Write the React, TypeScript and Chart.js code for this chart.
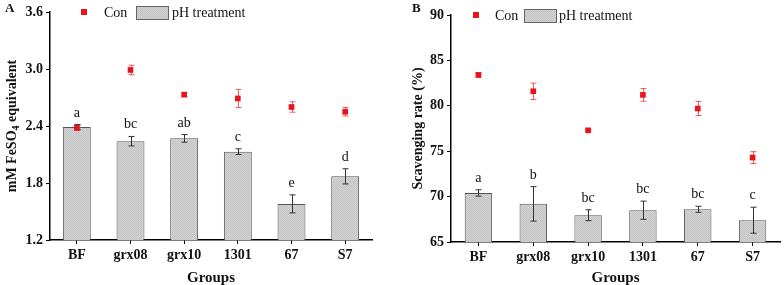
import React, { useEffect, useRef } from 'react';
import { Chart, registerables } from 'chart.js';

Chart.register(...registerables);

// ---- data ----
const groups = ['BF', 'grx08', 'grx10', '1301', '67', 'S7'];

const feConValues = [2.38, 2.99, 2.73, 2.69, 2.6, 2.55];
const feConErrors = [0.025, 0.05, 0.02, 0.095, 0.055, 0.045];
const fePhValues = [2.39, 2.24, 2.27, 2.13, 1.58, 1.87];
const fePhErrors = [0.025, 0.05, 0.04, 0.03, 0.095, 0.08];
const fePhLetters = ['a', 'bc', 'ab', 'c', 'e', 'd'];
const feTicks = [1.2, 1.8, 2.4, 3.0, 3.6];

const scConValues = [83.4, 81.6, 77.3, 81.2, 79.7, 74.3];
const scConErrors = [0.25, 0.9, 0.1, 0.7, 0.77, 0.65];
const scPhValues = [70.4, 69.2, 67.95, 68.5, 68.6, 67.4];
const scPhErrors = [0.35, 1.9, 0.6, 1.0, 0.33, 1.43];
const scPhLetters = ['a', 'b', 'bc', 'bc', 'bc', 'c'];
const scTicks = [65, 70, 75, 80, 85, 90];

const conLabel = 'Con';
const phLabel = 'pH treatment';

const SERIF = '"Liberation Serif", "Times New Roman", Times, serif';
const RED = '#e8141c';

function makePattern(): CanvasPattern | string {
  const c = document.createElement('canvas');
  c.width = 2;
  c.height = 2;
  const g = c.getContext('2d');
  if (!g) return '#cccccc';
  g.fillStyle = '#d3d3d3';
  g.fillRect(0, 0, 2, 2);
  g.fillStyle = '#c3c3c3';
  g.fillRect(0, 0, 1, 1);
  g.fillRect(1, 1, 1, 1);
  return g.createPattern(c, 'repeat') || '#cccccc';
}

function drawErrors(chart: any, index: number) {
  const ds: any = chart.data.datasets[index];
  if (!ds.errors) return;
  const meta = chart.getDatasetMeta(index);
  const y = chart.scales.y;
  const ctx = chart.ctx;
  ctx.save();
  ctx.strokeStyle = ds.errorColor;
  ctx.lineWidth = 1;
  ds.data.forEach((v: number, i: number) => {
    const e = ds.errors[i];
    const px = Math.round(meta.data[i].x) + 0.5;
    const yTop = y.getPixelForValue(v + e);
    const yBot = y.getPixelForValue(v - e);
    ctx.beginPath();
    ctx.moveTo(px, yTop);
    ctx.lineTo(px, yBot);
    ctx.moveTo(px - 3, yTop);
    ctx.lineTo(px + 3, yTop);
    ctx.moveTo(px - 3, yBot);
    ctx.lineTo(px + 3, yBot);
    ctx.stroke();
  });
  ctx.restore();
}

const overlayPlugin = {
  id: 'overlay',
  beforeDatasetDraw(chart: any, args: any) {
    const ds: any = chart.data.datasets[args.index];
    if (ds.type === 'line') drawErrors(chart, args.index);
  },
  afterDatasetDraw(chart: any, args: any) {
    const ds: any = chart.data.datasets[args.index];
    if (ds.type === 'bar') drawErrors(chart, args.index);
  },
  afterDraw(chart: any, _args: any, opts: any) {
    const ctx = chart.ctx;
    const area = chart.chartArea;
    const y = chart.scales.y;
    ctx.save();
    // significance letters
    const barIndex = chart.data.datasets.findIndex((d: any) => d.type === 'bar');
    const barDs: any = chart.data.datasets[barIndex];
    const barMeta = chart.getDatasetMeta(barIndex);
    ctx.fillStyle = '#111';
    ctx.font = `14px ${SERIF}`;
    ctx.textAlign = 'center';
    ctx.textBaseline = 'alphabetic';
    barDs.data.forEach((v: number, i: number) => {
      const top = y.getPixelForValue(v + barDs.errors[i]);
      ctx.fillText(barDs.letters[i], barMeta.data[i].x, top - 8);
    });

    // legend
    const lx = opts.legendX as number[];
    const cy = area.top;
    ctx.fillStyle = RED;
    ctx.fillRect(area.left + lx[0] - 3, cy - 3, 6, 6);
    ctx.fillStyle = '#111';
    ctx.font = `14px ${SERIF}`;
    ctx.textAlign = 'left';
    ctx.textBaseline = 'middle';
    const conDs: any = chart.data.datasets.find((d: any) => d.type === 'line');
    ctx.fillText(conDs.label, area.left + lx[1], cy + 1);
    ctx.fillStyle = barDs.backgroundColor;
    ctx.fillRect(area.left + lx[2], cy - 6, 32, 13);
    ctx.strokeStyle = '#666';
    ctx.lineWidth = 1;
    ctx.strokeRect(area.left + lx[2] + 0.5, cy - 5.5, 32, 13);
    ctx.fillStyle = '#111';
    ctx.fillText(barDs.label, area.left + lx[3], cy + 1);

    // x title
    ctx.fillStyle = '#111';
    ctx.font = `bold 15px ${SERIF}`;
    ctx.textAlign = 'center';
    ctx.textBaseline = 'alphabetic';
    ctx.fillText(opts.xTitle, (area.left + area.right) / 2, chart.height - 3.5);

    // panel letter
    ctx.font = `bold 13px ${SERIF}`;
    ctx.textAlign = 'left';
    ctx.fillText(opts.panel, opts.panelX, 11.5);

    // y title (rotated, optional subscript)
    ctx.translate(opts.yTitleX, (area.top + area.bottom) / 2);
    ctx.rotate(-Math.PI / 2);
    const parts: { t: string; sub: boolean }[] = opts.yTitleParts;
    const bigFont = `bold 14px ${SERIF}`;
    const subFont = `bold 10px ${SERIF}`;
    let total = 0;
    parts.forEach((p) => {
      ctx.font = p.sub ? subFont : bigFont;
      total += ctx.measureText(p.t).width;
    });
    let x = -total / 2;
    ctx.textBaseline = 'middle';
    ctx.textAlign = 'left';
    parts.forEach((p) => {
      ctx.font = p.sub ? subFont : bigFont;
      ctx.fillText(p.t, x, p.sub ? 4 : 0);
      x += ctx.measureText(p.t).width;
    });
    ctx.restore();
  },
};

interface PanelProps {
  width: number;
  conValues: number[];
  conErrors: number[];
  phValues: number[];
  phErrors: number[];
  letters: string[];
  ticks: number[];
  decimals: number;
  leftW: number;
  rightPad: number;
  topPad: number;
  bottomH: number;
  legendX: number[];
  panel: string;
  panelX: number;
  yTitleX: number;
  yTitleParts: { t: string; sub: boolean }[];
  barPct: number;
}

function Panel(p: PanelProps) {
  const ref = useRef<HTMLCanvasElement | null>(null);
  useEffect(() => {
    if (!ref.current) return;
    const pattern = makePattern();
    const tickFont = { family: SERIF, size: 14, weight: 'bold' as const };
    const chart = new Chart(ref.current, {
      type: 'bar',
      data: {
        labels: groups,
        datasets: [
          {
            type: 'line',
            label: conLabel,
            data: p.conValues,
            showLine: false,
            pointStyle: 'rect',
            pointRadius: 4,
            pointBackgroundColor: RED,
            pointBorderWidth: 0,
            borderColor: RED,
            order: 0,
            errors: p.conErrors,
            errorColor: 'rgba(232,40,40,0.75)',
          } as any,
          {
            type: 'bar',
            label: phLabel,
            data: p.phValues,
            backgroundColor: pattern,
            borderColor: '#555',
            borderWidth: 1,
            borderSkipped: 'bottom',
            barPercentage: p.barPct,
            categoryPercentage: 1,
            order: 1,
            errors: p.phErrors,
            errorColor: '#333',
            letters: p.letters,
          } as any,
        ],
      },
      options: {
        animation: false,
        responsive: false,
        maintainAspectRatio: false,
        layout: { padding: { top: p.topPad, right: p.rightPad, left: 0, bottom: 0 } },
        plugins: {
          legend: { display: false },
          tooltip: { enabled: false },
          overlay: {
            legendX: p.legendX,
            xTitle: 'Groups',
            panel: p.panel,
            panelX: p.panelX,
            yTitleX: p.yTitleX,
            yTitleParts: p.yTitleParts,
          },
        } as any,
        scales: {
          x: {
            offset: true,
            grid: {
              display: true,
              drawOnChartArea: false,
              drawTicks: true,
              tickLength: 4,
              offset: false,
              color: '#000',
              lineWidth: 1,
            },
            border: { display: true, color: '#000', width: 1.5 },
            ticks: { font: tickFont, color: '#111', padding: 3, maxRotation: 0, autoSkip: false },
            afterFit(s: any) {
              s.height = p.bottomH;
            },
          },
          y: {
            min: p.ticks[0],
            max: p.ticks[p.ticks.length - 1],
            afterBuildTicks(s: any) {
              s.ticks = p.ticks.map((v) => ({ value: v }));
            },
            grid: {
              display: true,
              drawOnChartArea: false,
              drawTicks: true,
              tickLength: 4,
              color: '#000',
              lineWidth: 1,
            },
            border: { display: true, color: '#000', width: 1.5 },
            ticks: {
              font: tickFont,
              color: '#111',
              padding: 3,
              callback: (v: any) => Number(v).toFixed(p.decimals),
            },
            afterFit(s: any) {
              s.width = p.leftW;
            },
          },
        },
      },
      plugins: [overlayPlugin as any],
    });
    return () => chart.destroy();
  }, []);
  return (
    <canvas
      ref={ref}
      width={p.width}
      height={285}
      style={{ display: 'block', width: p.width, height: 285 }}
    />
  );
}

export default function App() {
  useEffect(() => {
    document.body.style.margin = '0';
    document.body.style.background = '#fff';
  }, []);
  return (
    <div style={{ position: 'absolute', left: 0, top: 0, width: 784, height: 285, display: 'flex', background: '#fff' }}>
      <Panel
        width={390}
        conValues={feConValues}
        conErrors={feConErrors}
        phValues={fePhValues}
        phErrors={fePhErrors}
        letters={fePhLetters}
        ticks={feTicks}
        decimals={1}
        leftW={50}
        rightPad={18}
        topPad={12}
        bottomH={45}
        legendX={[34, 54, 86, 122]}
        panel="A"
        panelX={5}
        yTitleX={12}
        yTitleParts={[
          { t: 'mM FeSO', sub: false },
          { t: '4', sub: true },
          { t: ' equivalent', sub: false },
        ]}
        barPct={0.52}
      />
      <Panel
        width={394}
        conValues={scConValues}
        conErrors={scConErrors}
        phValues={scPhValues}
        phErrors={scPhErrors}
        letters={scPhLetters}
        ticks={scTicks}
        decimals={0}
        leftW={61}
        rightPad={4}
        topPad={15}
        bottomH={43}
        legendX={[25, 44, 73, 108]}
        panel="B"
        panelX={22}
        yTitleX={28}
        yTitleParts={[{ t: 'Scavenging rate (%)', sub: false }]}
        barPct={0.5}
      />
    </div>
  );
}
